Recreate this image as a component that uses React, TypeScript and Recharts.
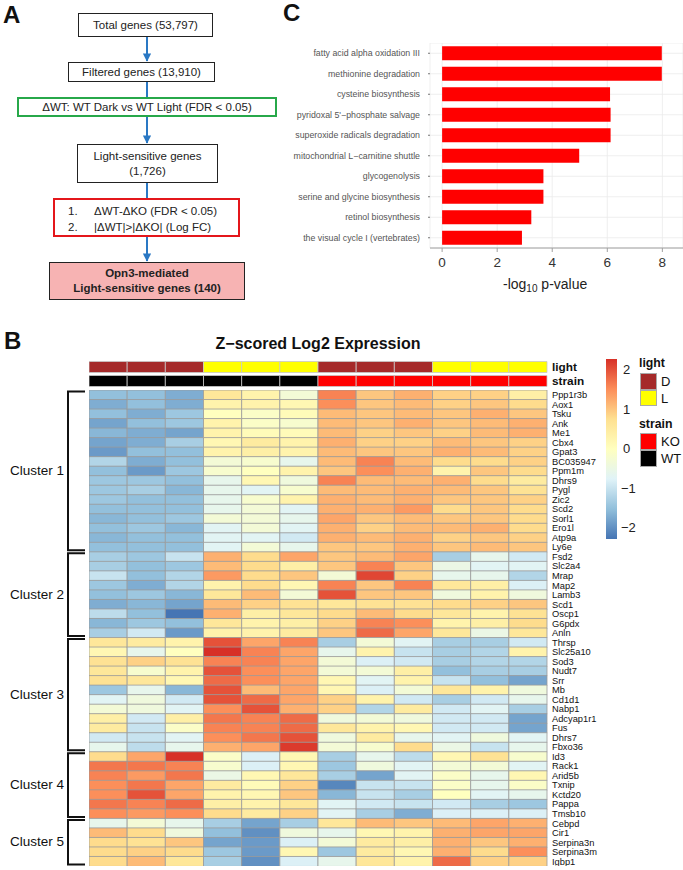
import { BarChart, Bar, Cell, XAxis, YAxis, CartesianGrid } from 'recharts';

const FONT = '"Liberation Sans", Arial, sans-serif';

// ---- panel C: enriched pathways
const pathways = [
  'fatty acid alpha oxidation III',
  'methionine degradation',
  'cysteine biosynthesis',
  "pyridoxal 5'\u2212phosphate salvage",
  'superoxide radicals degradation',
  'mitochondrial L\u2212carnitine shuttle',
  'glycogenolysis',
  'serine and glycine biosynthesis',
  'retinol biosynthesis',
  'the visual cycle I (vertebrates)',
];
const pathwayScores = [7.98, 7.98, 6.1, 6.12, 6.12, 4.98, 3.68, 3.68, 3.24, 2.9];
const pathwayTicks = [0, 2, 4, 6, 8];

// ---- panel B: heatmap
const samples = ['s1', 's2', 's3', 's4', 's5', 's6', 's7', 's8', 's9', 's10', 's11', 's12'];
const lightGroup = ['D', 'D', 'D', 'L', 'L', 'L', 'D', 'D', 'D', 'L', 'L', 'L'];
const strainGroup = ['WT', 'WT', 'WT', 'WT', 'WT', 'WT', 'KO', 'KO', 'KO', 'KO', 'KO', 'KO'];

const cluster1Genes = ['Ppp1r3b', 'Aox1', 'Tsku', 'Ank', 'Me1', 'Cbx4', 'Gpat3', 'BC035947', 'Ppm1m', 'Dhrs9', 'Pygl', 'Zic2', 'Scd2', 'Sorl1', 'Ero1l', 'Atp9a', 'Ly6e'];
const cluster1Z = [
  [-1.5, -1.5, -1.7, 0.6, 0.3, -0.3, 1.6, 1.0, 1.2, 0.9, 0.9, 0.4],
  [-1.7, -1.5, -1.7, 0.3, 0.3, 0.2, 1.5, 1.0, 1.1, 0.9, 1.0, 0.8],
  [-1.5, -1.7, -1.4, 0.0, -0.1, 0.1, 1.1, 1.0, 1.1, 1.0, 1.2, 1.0],
  [-1.8, -1.5, -1.4, 0.3, -0.1, -0.2, 1.1, 1.0, 1.2, 1.0, 1.1, 1.2],
  [-1.6, -1.7, -1.8, 0.3, 0.1, 0.1, 1.1, 0.9, 1.0, 0.9, 1.1, 1.2],
  [-1.8, -1.7, -1.3, 0.2, 0.5, 0.3, 1.2, 0.9, 0.9, 1.1, 1.0, 0.9],
  [-1.9, -1.5, -1.5, 0.3, 0.4, 0.3, 1.1, 1.0, 1.0, 1.2, 1.1, 0.9],
  [-1.2, -1.7, -1.5, -0.3, -0.2, -0.6, 1.1, 1.6, 1.1, 0.8, 0.8, 0.9],
  [-1.5, -1.9, -1.4, -0.2, 0.0, 0.3, 1.0, 1.5, 1.2, 0.3, 1.0, 0.8],
  [-1.4, -1.4, -1.5, -0.6, 0.2, -0.4, 1.6, 1.1, 1.1, 1.2, 0.8, 0.5],
  [-1.4, -1.3, -1.6, -0.6, -0.7, -0.2, 1.1, 1.1, 1.2, 1.1, 1.0, 0.7],
  [-1.4, -1.5, -1.5, -0.6, -0.2, 0.3, 1.2, 1.1, 1.2, 1.0, 1.0, 0.9],
  [-1.5, -1.5, -1.5, -0.6, -0.3, -0.7, 1.2, 1.2, 1.4, 0.8, 1.0, 0.8],
  [-1.6, -1.5, -1.4, -0.3, -0.3, -0.6, 1.3, 1.0, 1.1, 1.0, 1.0, 0.8],
  [-1.5, -1.4, -1.6, -0.7, -0.3, -0.7, 1.2, 0.9, 1.1, 1.1, 1.2, 0.8],
  [-1.6, -1.5, -1.5, -0.7, -0.7, -0.9, 1.2, 1.1, 1.2, 0.9, 1.0, 0.9],
  [-1.5, -1.5, -1.5, -0.7, -0.3, -0.6, 1.0, 1.0, 1.2, 1.0, 1.1, 1.0],
];

const cluster2Genes = ['Fsd2', 'Slc2a4', 'Mrap', 'Map2', 'Lamb3', 'Scd1', 'Oscp1', 'G6pdx', 'Anln'];
const cluster2Z = [
  [-1.3, -1.4, -1.0, 1.2, 0.8, 1.3, 1.0, 1.1, 1.3, -1.3, -0.6, -0.9],
  [-1.3, -1.5, -1.4, 1.1, 0.8, 0.4, 1.0, 1.6, 1.0, -0.5, -0.7, -0.7],
  [-1.0, -1.5, -1.2, 1.4, 0.8, 1.0, -0.3, 2.1, 0.9, -0.6, -0.6, -1.2],
  [-1.4, -1.7, -1.2, 0.3, 0.8, 0.2, 1.6, 1.0, 1.6, 0.6, 0.4, -0.8],
  [-1.5, -1.4, -1.6, 0.6, 1.1, -0.3, 2.0, 1.0, 1.0, -0.4, 0.3, -0.4],
  [-1.7, -1.6, -1.8, 1.1, 0.9, 0.7, 0.6, 0.7, 0.7, 0.8, 0.9, 1.0],
  [-1.1, -1.5, -2.3, 1.2, 0.4, 0.6, 0.8, 1.1, 0.8, 0.6, 0.3, 0.7],
  [-1.6, -1.4, -1.5, 0.6, 0.3, 0.4, 0.9, 1.6, 1.5, 0.3, 0.4, 0.8],
  [-1.3, -0.9, -1.9, 0.3, 0.3, 0.5, 1.0, 1.8, 1.3, 0.6, -0.5, 0.6],
];

const cluster3Genes = ['Thrsp', 'Slc25a10', 'Sod3', 'Nudt7', 'Srr', 'Mb', 'Cd1d1', 'Nabp1', 'Adcyap1r1', 'Fus', 'Dhrs7', 'Fbxo36'];
const cluster3Z = [
  [0.6, 0.5, 0.3, 2.0, 1.3, 1.6, -1.3, -0.3, -0.7, -1.3, -1.3, -0.9],
  [0.2, -0.6, 0.0, 2.3, 1.6, 1.3, -0.6, 0.3, -1.0, -1.3, -1.2, 0.3],
  [0.7, 0.9, 0.7, 1.6, 1.6, 1.3, -0.3, -0.8, -0.9, -1.3, -1.2, -1.2],
  [0.6, -0.2, 0.3, 2.0, 1.5, 1.3, -0.3, -0.3, 0.4, -1.5, -1.3, -1.3],
  [0.7, 0.6, 0.2, 1.8, 1.5, 1.3, 0.2, -0.7, 0.3, -1.0, -1.5, -1.8],
  [-1.4, -0.6, -1.6, 2.0, 1.1, 1.3, 0.2, -0.8, -0.3, 0.6, 0.3, -0.4],
  [-0.7, -0.4, -0.9, 2.0, 1.8, 1.3, 0.9, 0.3, -0.9, -1.3, -0.9, -0.6],
  [-0.3, -0.4, -0.7, 1.5, 2.0, 1.2, 0.9, -1.2, 0.5, -0.9, -0.7, -1.3],
  [0.4, -0.9, 0.4, 1.7, 1.6, 1.8, -0.4, -0.3, -0.4, -0.9, -0.9, -1.8],
  [0.5, -1.0, -0.1, 1.6, 1.6, 1.8, 0.6, 0.3, 0.2, -0.9, -0.9, -1.8],
  [-0.9, -1.0, -0.7, 1.5, 1.7, 2.0, -0.4, 0.5, -0.6, -0.7, -0.4, -0.7],
  [-0.6, -1.1, -0.6, 1.2, 1.3, 2.2, -0.3, -0.2, 0.8, -0.5, -1.0, -0.6],
];

const cluster4Genes = ['Id3', 'Rack1', 'Arid5b', 'Txnip', 'Kctd20', 'Pappa', 'Tmsb10'];
const cluster4Z = [
  [0.8, 1.3, 2.3, -0.1, -0.8, 0.2, -1.3, -0.6, -1.1, 0.2, 0.7, -0.2],
  [1.7, 1.7, 1.6, -0.2, -0.8, 0.2, -1.4, -0.4, -0.7, -0.3, -0.3, -0.7],
  [1.6, 1.4, 1.7, -0.5, 0.2, 0.6, -1.3, -1.8, -0.7, -0.1, -0.6, 0.2],
  [1.5, 1.7, 1.3, 0.5, 0.1, 0.9, -2.1, -1.0, -1.0, -0.1, -0.6, -0.1],
  [1.5, 2.0, 1.3, 0.3, 0.2, 1.0, -1.6, -1.0, -1.3, 0.0, -0.7, -0.6],
  [1.7, 1.6, 1.8, 0.4, 0.3, 0.6, -0.7, -0.9, -1.0, -0.9, -1.3, -1.4],
  [1.5, 1.4, 1.5, 0.8, 0.5, 0.9, -0.7, -1.3, -1.7, -0.8, -0.8, -0.8],
];

const cluster5Genes = ['Cebpd', 'Cir1', 'Serpina3n', 'Serpina3m', 'Igbp1'];
const cluster5Z = [
  [-0.6, -0.3, -0.6, -1.3, -1.8, -1.3, 0.6, 1.1, 1.0, 1.1, 1.3, 1.2],
  [1.1, 0.8, -0.4, -1.5, -2.0, -0.4, -0.6, 0.2, 0.3, 1.2, 1.3, 1.3],
  [0.8, 0.7, 1.0, -1.8, -1.9, -0.8, -0.3, 0.5, 0.4, 1.2, 1.0, 1.2],
  [0.8, 0.9, 0.8, -1.4, -1.9, 0.2, -1.4, 0.5, 0.2, 1.2, 0.8, 1.5],
  [0.8, 1.1, 0.6, -1.3, -2.0, -0.8, -0.6, 0.6, 0.3, 1.8, 0.9, 0.9],
];

const clusterNames = ['Cluster 1', 'Cluster 2', 'Cluster 3', 'Cluster 4', 'Cluster 5'];
const colorKeyTicks = [2, 1, 0, -1, -2];

const clusters = [
  { genes: cluster1Genes, z: cluster1Z },
  { genes: cluster2Genes, z: cluster2Z },
  { genes: cluster3Genes, z: cluster3Z },
  { genes: cluster4Genes, z: cluster4Z },
  { genes: cluster5Genes, z: cluster5Z },
];
const genes = clusters.flatMap((c) => c.genes);
const zRows = clusters.flatMap((c) => c.z);

const RAMP = ['#4575B4', '#91BFDB', '#E0F3F8', '#FFFFBF', '#FEE090', '#FC8D59', '#D73027'];
const Z_MAX = 2.28;
const LIGHT_COLORS: Record<string, string> = { D: '#a52a2a', L: '#ffff00' };
const STRAIN_COLORS: Record<string, string> = { KO: '#ff0000', WT: '#000000' };

function hex(c: string) {
  return [1, 3, 5].map((i) => parseInt(c.slice(i, i + 2), 16));
}

function zColor(v: number) {
  const t = ((Math.max(-Z_MAX, Math.min(Z_MAX, v)) + Z_MAX) / (2 * Z_MAX)) * (RAMP.length - 1);
  const i = Math.min(Math.floor(t), RAMP.length - 2);
  const f = t - i;
  const a = hex(RAMP[i]);
  const b = hex(RAMP[i + 1]);
  const m = a.map((x, k) => Math.round(x + (b[k] - x) * f));
  return `rgb(${m[0]},${m[1]},${m[2]})`;
}

// layout
const HM_LEFT = 89;
const HM_TOP = 390;
const HM_W = 458;
const HM_H = 476;
const LABEL_W = 80;
const ROW_H = HM_H / genes.length;

const heatData = genes.map((g) => {
  const row: Record<string, string | number> = { gene: g };
  samples.forEach((s) => (row[s] = 1));
  return row;
});

const annoData = ['light', 'strain'].map((name) => {
  const row: Record<string, string | number> = { name };
  samples.forEach((s) => (row[s] = 1));
  return row;
});

const pathwayData = pathways.map((p, i) => ({ name: p, score: pathwayScores[i] }));

function GeneTick(props: any) {
  const { x, y, payload } = props;
  return (
    <text x={x + 3} y={y} dy="0.36em" fontSize={9.3} fontFamily={FONT} fill="#111" textAnchor="start">
      {payload.value}
    </text>
  );
}

function AnnoTick(props: any) {
  const { x, y, payload } = props;
  return (
    <text x={x + 3} y={y} dy="0.36em" fontSize={11.8} fontWeight="bold" fontFamily={FONT} fill="#111" textAnchor="start">
      {payload.value}
    </text>
  );
}

function PathwayTick(props: any) {
  const { x, y, payload } = props;
  return (
    <text x={x} y={y} dy="0.36em" fontSize={8.8} fontFamily={FONT} fill="#555" textAnchor="end">
      {payload.value}
    </text>
  );
}

function Heatmap() {
  return (
    <BarChart
      layout="vertical"
      width={HM_W + LABEL_W}
      height={HM_H}
      data={heatData}
      margin={{ top: 0, right: 0, bottom: 0, left: 0 }}
      barCategoryGap={0}
      style={{ overflow: 'visible' }}
    >
      <XAxis type="number" domain={[0, samples.length]} hide />
      <YAxis
        type="category"
        dataKey="gene"
        orientation="right"
        width={LABEL_W}
        interval={0}
        tickLine={false}
        axisLine={false}
        tickSize={0}
        tick={<GeneTick />}
      />
      {samples.map((s, ci) => (
        <Bar key={s} dataKey={s} stackId="hm" isAnimationActive={false}>
          {zRows.map((r, ri) => (
            <Cell key={ri} fill={zColor(r[ci])} stroke="#9a9a9a" strokeWidth={0.8} />
          ))}
        </Bar>
      ))}
    </BarChart>
  );
}

function Annotation() {
  return (
    <BarChart
      layout="vertical"
      width={HM_W + LABEL_W}
      height={28}
      data={annoData}
      margin={{ top: 0, right: 0, bottom: 0, left: 0 }}
      barCategoryGap={1.5}
      style={{ overflow: 'visible' }}
    >
      <XAxis type="number" domain={[0, samples.length]} hide />
      <YAxis
        type="category"
        dataKey="name"
        orientation="right"
        width={LABEL_W}
        interval={0}
        tickLine={false}
        axisLine={false}
        tickSize={0}
        tick={<AnnoTick />}
      />
      {samples.map((s, ci) => (
        <Bar key={s} dataKey={s} stackId="an" isAnimationActive={false}>
          <Cell fill={LIGHT_COLORS[lightGroup[ci]]} stroke="#c8c8c8" strokeWidth={0.8} />
          <Cell fill={STRAIN_COLORS[strainGroup[ci]]} stroke="#c8c8c8" strokeWidth={0.8} />
        </Bar>
      ))}
    </BarChart>
  );
}

function PathwayChart() {
  const domain: [number, number] = [-0.44, 8.75];
  return (
    <BarChart
      layout="vertical"
      width={400}
      height={236}
      data={pathwayData}
      margin={{ top: 0, right: 0, bottom: 0, left: 0 }}
      barCategoryGap="16%"
    >
      <CartesianGrid stroke="#ebebeb" strokeWidth={0.8} />
      <XAxis
        type="number"
        domain={domain}
        ticks={pathwayTicks}
        allowDataOverflow
        height={31}
        tickSize={4}
        tickMargin={5}
        axisLine={{ stroke: '#a0a0a0' }}
        tickLine={{ stroke: '#a0a0a0' }}
        tick={{ fontSize: 13.5, fill: '#333', fontFamily: FONT }}
      />
      <XAxis
        xAxisId="top"
        orientation="top"
        type="number"
        domain={domain}
        allowDataOverflow
        height={0}
        tick={false}
        tickLine={false}
        axisLine={{ stroke: '#b8b8b8' }}
      />
      <YAxis
        type="category"
        dataKey="name"
        width={147}
        interval={0}
        tickSize={2}
        tickMargin={8}
        axisLine={false}
        tickLine={{ stroke: '#777' }}
        tick={<PathwayTick />}
      />
      <Bar dataKey="score" fill="#ff0000" isAnimationActive={false} />
    </BarChart>
  );
}

type Box = { x1: number; y1: number; x2: number; y2: number; lines: string[]; border: string; bw: number; bg?: string; bold?: boolean };

const flowBoxes: Box[] = [
  { x1: 78, y1: 13, x2: 213, y2: 37, lines: ['Total genes (53,797)'], border: '#222', bw: 1.2 },
  { x1: 68, y1: 62, x2: 215, y2: 82, lines: ['Filtered genes (13,910)'], border: '#222', bw: 1.2 },
  { x1: 17, y1: 97, x2: 277, y2: 117, lines: ['\u0394WT: WT Dark vs WT Light (FDR < 0.05)'], border: '#27a84a', bw: 2 },
  { x1: 77, y1: 144, x2: 218, y2: 183, lines: ['Light-sensitive genes', '(1,726)'], border: '#222', bw: 1.2 },
  { x1: 53, y1: 198, x2: 240, y2: 237, lines: [], border: '#e4161b', bw: 2.5 },
  { x1: 49, y1: 262, x2: 245, y2: 300, lines: ['Opn3-mediated', 'Light-sensitive genes (140)'], border: '#222', bw: 1.2, bg: '#f7b3b3', bold: true },
];

export default function App() {
  const arrowX = 147;
  let acc = 0;
  const clusterSpans = clusters.map((c) => {
    const top = HM_TOP + acc * ROW_H;
    acc += c.genes.length;
    return { top, bottom: HM_TOP + acc * ROW_H };
  });
  return (
    <div style={{ position: 'absolute', left: 0, top: 0, width: 683, height: 870, background: '#fff', fontFamily: FONT, color: '#111', overflow: 'hidden' }}>
      {/* panel letters */}
      <div style={{ position: 'absolute', left: 3, top: 1, fontSize: 24, fontWeight: 'bold' }}>A</div>
      <div style={{ position: 'absolute', left: 283, top: -1, fontSize: 24, fontWeight: 'bold' }}>C</div>
      <div style={{ position: 'absolute', left: 4, top: 327, fontSize: 24, fontWeight: 'bold' }}>B</div>

      {/* flowchart */}
      {flowBoxes.map((b, i) => (
        <div
          key={i}
          style={{
            position: 'absolute',
            left: b.x1,
            top: b.y1,
            width: b.x2 - b.x1,
            height: b.y2 - b.y1,
            boxSizing: 'border-box',
            border: `${b.bw}px solid ${b.border}`,
            background: b.bg || '#fff',
            display: 'flex',
            flexDirection: 'column',
            alignItems: 'center',
            justifyContent: 'center',
            fontSize: 11.5,
            fontWeight: b.bold ? 'bold' : 'normal',
            lineHeight: '15px',
            color: '#222',
          }}
        >
          {b.lines.map((l, k) => (
            <div key={k}>{l}</div>
          ))}
        </div>
      ))}
      <div style={{ position: 'absolute', left: 68, top: 203, fontSize: 11.5, lineHeight: '16px', color: '#222' }}>
        <div><span style={{ display: 'inline-block', width: 26 }}>1.</span>{'\u0394WT-\u0394KO (FDR < 0.05)'}</div>
        <div><span style={{ display: 'inline-block', width: 26 }}>2.</span>{'|\u0394WT|>|\u0394KO| (Log FC)'}</div>
      </div>

      {/* title */}
      <div style={{ position: 'absolute', left: HM_LEFT, top: 335, width: HM_W, textAlign: 'center', fontSize: 16, fontWeight: 'bold' }}>
        Z{'\u2212'}scored Log2 Expression
      </div>

      <div style={{ position: 'absolute', left: HM_LEFT, top: 360 }}>
        <Annotation />
      </div>
      <div style={{ position: 'absolute', left: HM_LEFT, top: HM_TOP }}>
        <Heatmap />
      </div>

      {/* colour key */}
      <div
        style={{
          position: 'absolute',
          left: 606,
          top: 359,
          width: 11,
          height: 180,
          background: `linear-gradient(to top, ${RAMP.join(', ')})`,
        }}
      />
      {colorKeyTicks.map((t) => (
        <div key={t} style={{ position: 'absolute', left: t < 0 ? 621 : 623, top: 449 - t * 39.5 - 8, fontSize: 13, color: '#222' }}>
          {t < 0 ? `\u2212${-t}` : t}
        </div>
      ))}

      {/* annotation legend */}
      <div style={{ position: 'absolute', left: 639, top: 356, fontSize: 12.3, fontWeight: 'bold' }}>light</div>
      {(['D', 'L'] as const).map((k, i) => (
        <div key={k}>
          <div style={{ position: 'absolute', left: 640, top: 373 + i * 16.5, width: 17, height: 16.5, boxSizing: 'border-box', background: LIGHT_COLORS[k], border: '1px solid #aaa' }} />
          <div style={{ position: 'absolute', left: 661, top: 373 + i * 16.5, fontSize: 13, lineHeight: '17px' }}>{k}</div>
        </div>
      ))}
      <div style={{ position: 'absolute', left: 639, top: 417, fontSize: 12.3, fontWeight: 'bold' }}>strain</div>
      {(['KO', 'WT'] as const).map((k, i) => (
        <div key={k}>
          <div style={{ position: 'absolute', left: 640, top: 433 + i * 17, width: 17, height: 17, boxSizing: 'border-box', background: STRAIN_COLORS[k], border: '1px solid #aaa' }} />
          <div style={{ position: 'absolute', left: 661, top: 433 + i * 17, fontSize: 13, lineHeight: '17px' }}>{k}</div>
        </div>
      ))}

      {/* cluster labels */}
      {clusterSpans.map((s, i) => (
        <div key={i} style={{ position: 'absolute', left: 10, top: (s.top + s.bottom) / 2 - 8, fontSize: 13.5, color: '#111' }}>
          {clusterNames[i]}
        </div>
      ))}

      {/* panel C */}
      <div style={{ position: 'absolute', left: 283, top: 43 }}>
        <PathwayChart />
      </div>
      <div style={{ position: 'absolute', left: 503, top: 276, fontSize: 14, color: '#222' }}>
        -log<sub style={{ fontSize: 10, verticalAlign: '-3px' }}>10</sub> p-value
      </div>

      <svg width={683} height={870} style={{ position: 'absolute', left: 0, top: 0, pointerEvents: 'none' }}>
        <defs>
          <marker id="ah" viewBox="0 0 10 10" refX="9" refY="5" markerWidth="4.2" markerHeight="4.2" orient="auto">
            <path d="M0,0 L10,5 L0,10 z" fill="#2a78c4" />
          </marker>
        </defs>
        <line x1={arrowX} y1={37} x2={arrowX} y2={61} stroke="#2a78c4" strokeWidth={2} markerEnd="url(#ah)" />
        <line x1={arrowX} y1={82} x2={arrowX} y2={97} stroke="#2a78c4" strokeWidth={2} />
        <line x1={arrowX} y1={117} x2={arrowX} y2={143} stroke="#2a78c4" strokeWidth={2} markerEnd="url(#ah)" />
        <line x1={arrowX} y1={183} x2={arrowX} y2={198} stroke="#2a78c4" strokeWidth={2} />
        <line x1={arrowX} y1={237} x2={arrowX} y2={261} stroke="#2a78c4" strokeWidth={2} markerEnd="url(#ah)" />
        {clusterSpans.map((s, i) => (
          <path
            key={i}
            d={`M85,${s.top + 1.5} H68 V${s.bottom - 1.5} H85`}
            fill="none"
            stroke="#111"
            strokeWidth={2}
          />
        ))}
      </svg>
    </div>
  );
}
